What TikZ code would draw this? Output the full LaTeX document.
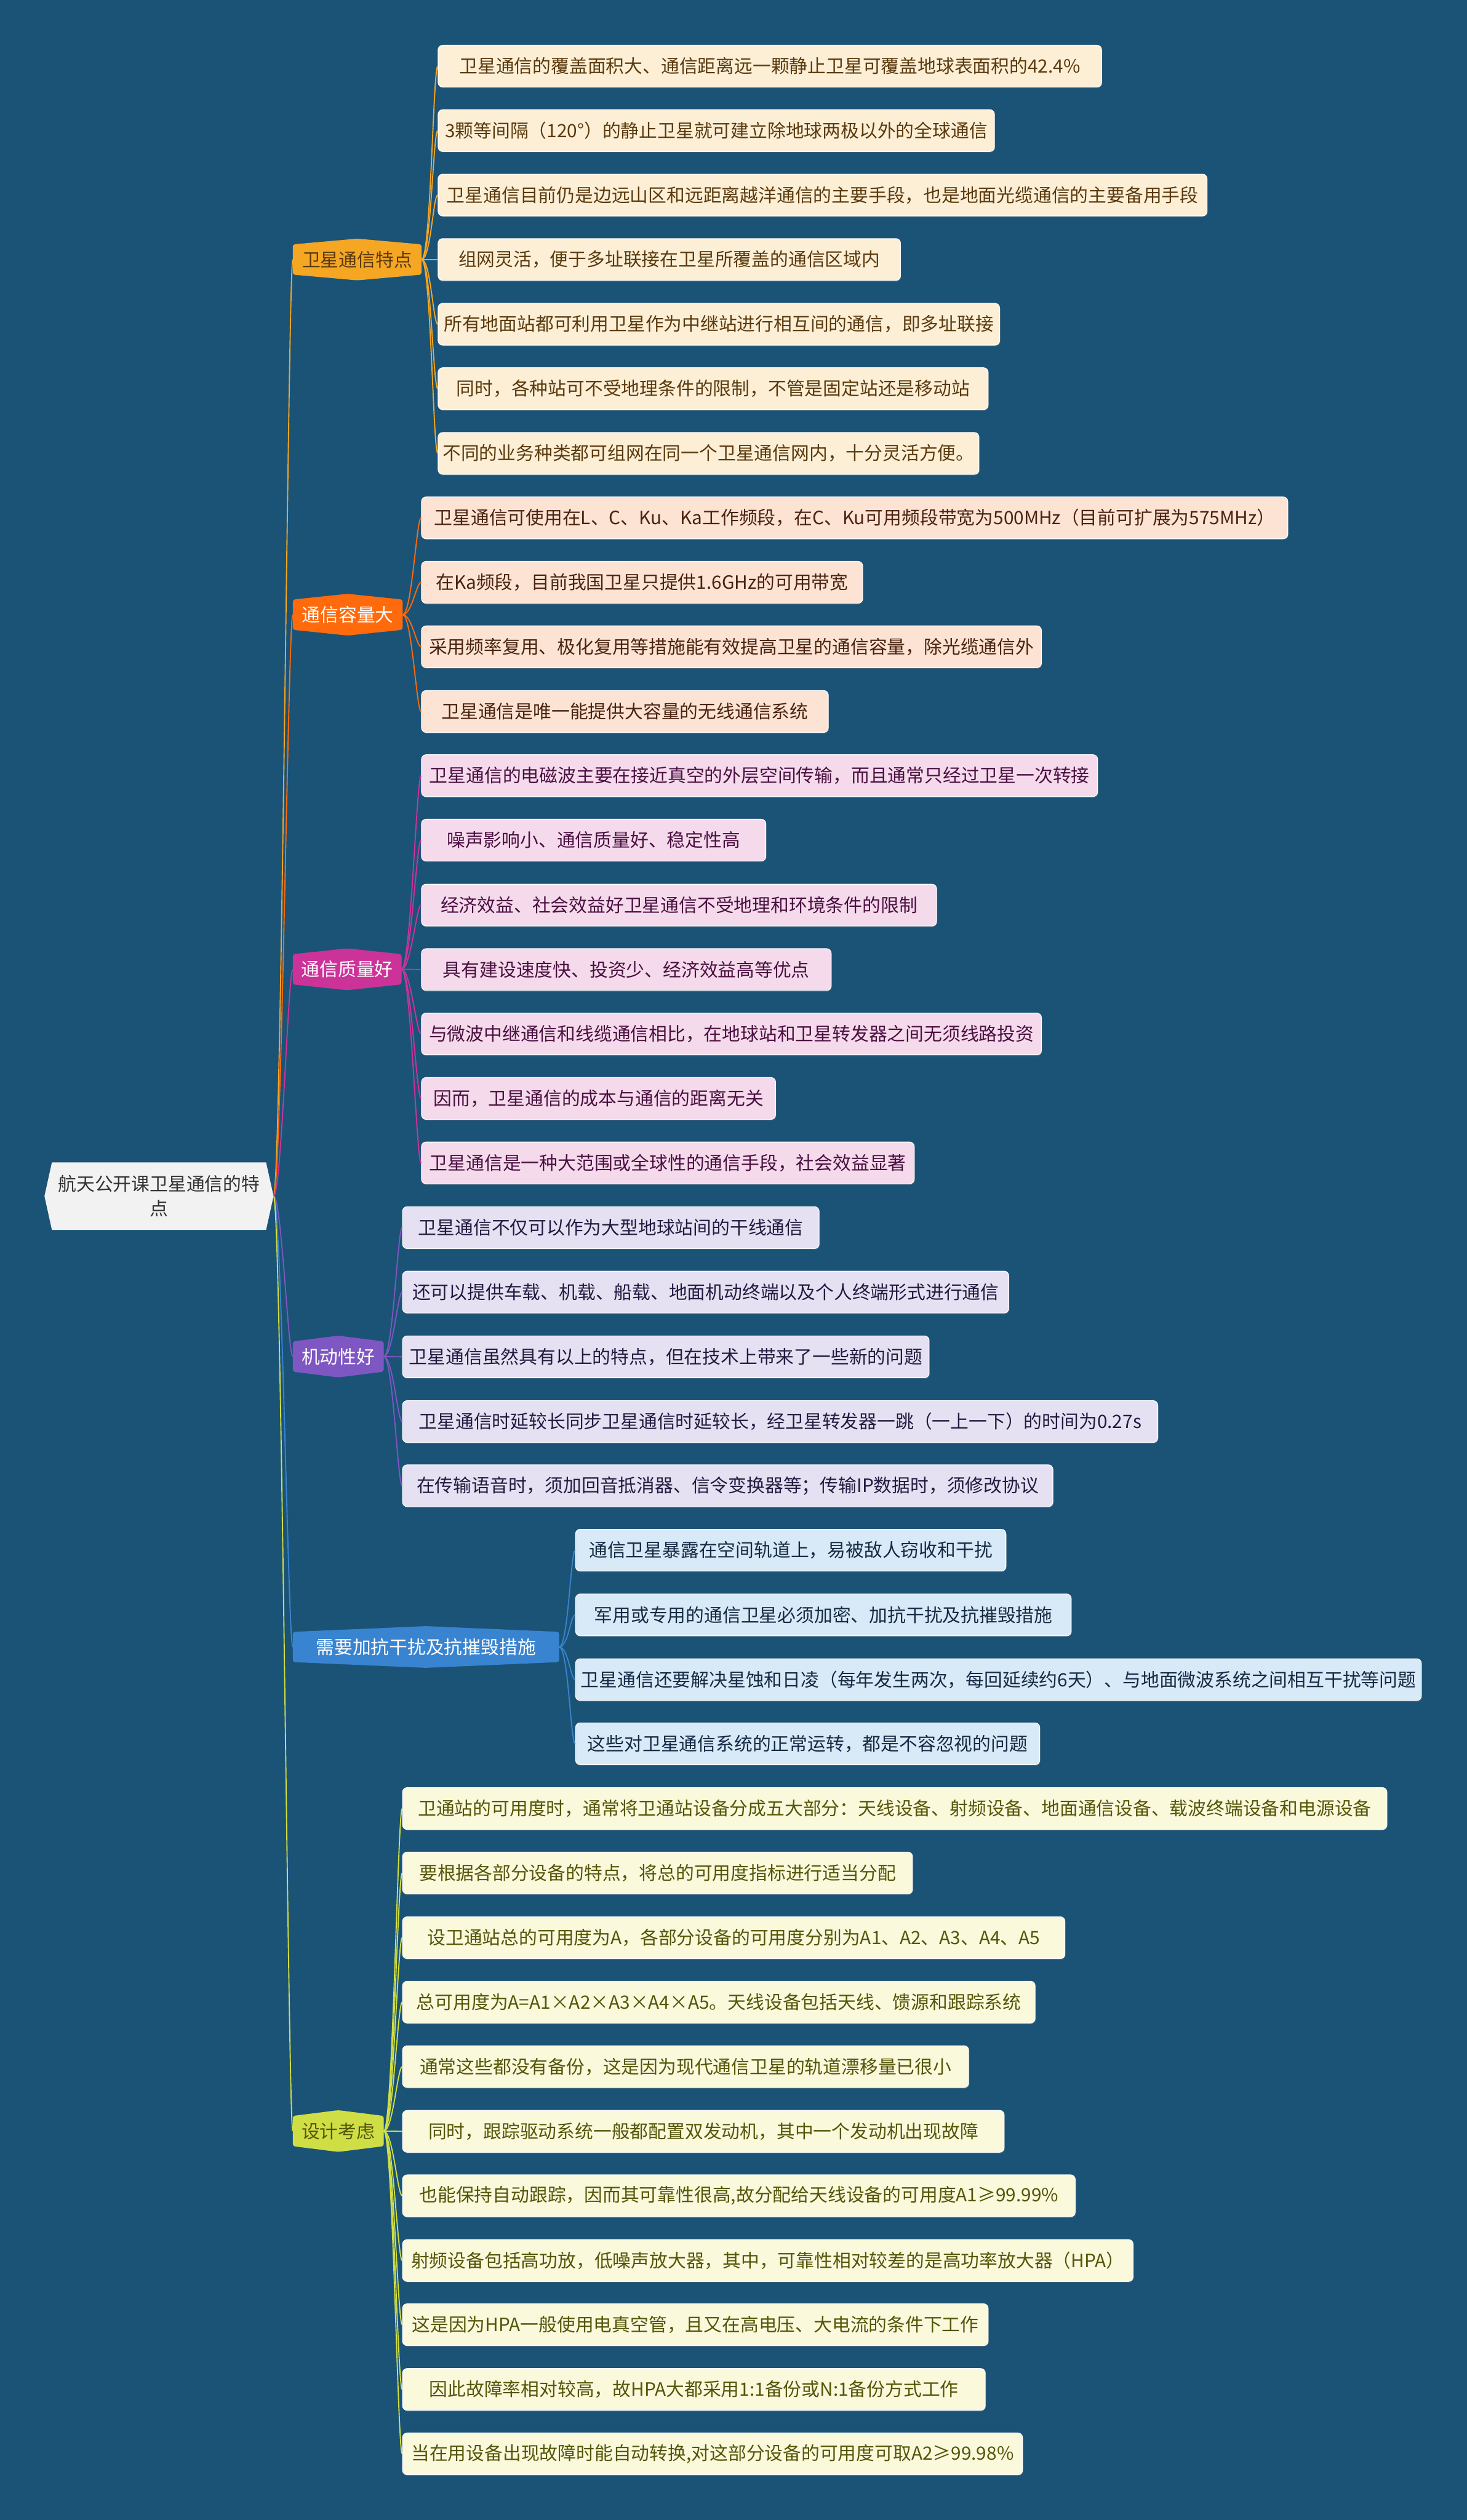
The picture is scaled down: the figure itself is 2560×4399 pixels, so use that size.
\documentclass[tikz,border=0pt]{standalone}
\usepackage{fontspec}
\setmainfont{Noto Sans CJK SC}
\usetikzlibrary{positioning, calc, backgrounds, shadows}

\definecolor{bgblue}{HTML}{1B5377}
\definecolor{rootfill}{HTML}{F2F2F2}
\definecolor{roottext}{HTML}{333333}
\definecolor{featfill}{HTML}{F5A623}
\definecolor{featleaf}{HTML}{FDEFD6}
\definecolor{feattext}{HTML}{5A3A0E}
\definecolor{capfill}{HTML}{FF6A0D}
\definecolor{capleaf}{HTML}{FDE3D3}
\definecolor{captext}{HTML}{4A2410}
\definecolor{qualfill}{HTML}{CC3399}
\definecolor{qualleaf}{HTML}{F5DAEC}
\definecolor{qualtext}{HTML}{4A1040}
\definecolor{mobfill}{HTML}{7E57C2}
\definecolor{mobleaf}{HTML}{E6E1F2}
\definecolor{mobtext}{HTML}{241A40}
\definecolor{antifill}{HTML}{3984D0}
\definecolor{antileaf}{HTML}{D8E9F7}
\definecolor{antitext}{HTML}{152A44}
\definecolor{desfill}{HTML}{D0DE45}
\definecolor{desleaf}{HTML}{FAF9DC}
\definecolor{destext}{HTML}{555508}

% hexagon behind a branch node: pointed top and bottom
\newcommand{\branchhex}[2]{%
    \fill[#2, rounded corners=2pt] ([yshift=-5pt]#1.north west) -- (#1.north) -- ([yshift=-5pt]#1.north east)
        -- ([yshift=5pt]#1.south east) -- (#1.south) -- ([yshift=5pt]#1.south west) -- cycle;}

\begin{document}
\begin{tikzpicture}[
    x=0.5pt, y=-0.5pt,
    txt/.style={font=\fontsize{16pt}{20pt}\selectfont},
    leaf/.style={
        txt,
        rectangle,
        rounded corners=4pt,
        anchor=west,
        minimum height=36.5pt,
        inner xsep=4pt,
        draw=white,
        line width=0.6pt,
        drop shadow={shadow xshift=0.6pt, shadow yshift=-1pt, opacity=0.35}
    },
    branch/.style={
        txt,
        rectangle,
        anchor=west,
        minimum height=36pt,
        inner sep=0pt
    },
    link/.style={line width=1pt},
    featleaf/.style={leaf, fill=featleaf, text=feattext},
    capleaf/.style={leaf, fill=capleaf, text=captext},
    qualleaf/.style={leaf, fill=qualleaf, text=qualtext},
    mobleaf/.style={leaf, fill=mobleaf, text=mobtext},
    antileaf/.style={leaf, fill=antileaf, text=antitext},
    desleaf/.style={leaf, fill=desleaf, text=destext}
]
    \useasboundingbox (0,0) rectangle (2560,4399);

    % Root
    \node[txt, rectangle, minimum width=199.5pt, minimum height=58.5pt, inner sep=0pt,
          align=center, text=roottext, font=\fontsize{16pt}{21.5pt}\selectfont]
          (root) at (277.5,2088) {航天公开课卫星通信的特\\点};

    % Branches
    \node[branch, minimum width=112pt, text=feattext] (feat) at (511,453) {卫星通信特点};
    \node[branch, minimum width=95.5pt, text=white] (cap) at (511,1073) {通信容量大};
    \node[branch, minimum width=94.5pt, text=white] (qual) at (511,1692) {通信质量好};
    \node[branch, minimum width=79pt, text=white] (mob) at (511,2368) {机动性好};
    \node[branch, minimum width=232pt, text=white] (anti) at (511,2875) {需要加抗干扰及抗摧毁措施};
    \node[branch, minimum width=79pt, text=destext] (design) at (511,3720) {设计考虑};

    % Leaves: 卫星通信特点
    \node[featleaf, minimum width=579pt] (feat1) at (764,115.5) {卫星通信的覆盖面积大、通信距离远一颗静止卫星可覆盖地球表面积的42.4\%};
    \node[featleaf, minimum width=485.5pt] (feat2) at (764,228) {3颗等间隔（120°）的静止卫星就可建立除地球两极以外的全球通信};
    \node[featleaf, minimum width=671pt] (feat3) at (764,340.5) {卫星通信目前仍是边远山区和远距离越洋通信的主要手段，也是地面光缆通信的主要备用手段};
    \node[featleaf, minimum width=403.5pt] (feat4) at (764,453) {组网灵活，便于多址联接在卫星所覆盖的通信区域内};
    \node[featleaf, minimum width=490pt] (feat5) at (764,566) {所有地面站都可利用卫星作为中继站进行相互间的通信，即多址联接};
    \node[featleaf, minimum width=480pt] (feat6) at (764,678.5) {同时，各种站可不受地理条件的限制，不管是固定站还是移动站};
    \node[featleaf, minimum width=472pt] (feat7) at (764,791.5) {不同的业务种类都可组网在同一个卫星通信网内，十分灵活方便。};

    % Leaves: 通信容量大
    \node[capleaf, minimum width=756pt] (cap1) at (735,904) {卫星通信可使用在L、C、Ku、Ka工作频段，在C、Ku可用频段带宽为500MHz（目前可扩展为575MHz）};
    \node[capleaf, minimum width=385pt] (cap2) at (735,1016.5) {在Ka频段，目前我国卫星只提供1.6GHz的可用带宽};
    \node[capleaf, minimum width=541pt] (cap3) at (735,1129) {采用频率复用、极化复用等措施能有效提高卫星的通信容量，除光缆通信外};
    \node[capleaf, minimum width=355pt] (cap4) at (735,1242) {卫星通信是唯一能提供大容量的无线通信系统};

    % Leaves: 通信质量好
    \node[qualleaf, minimum width=590pt] (qual1) at (735,1354) {卫星通信的电磁波主要在接近真空的外层空间传输，而且通常只经过卫星一次转接};
    \node[qualleaf, minimum width=300.5pt] (qual2) at (735,1466.5) {噪声影响小、通信质量好、稳定性高};
    \node[qualleaf, minimum width=449.5pt] (qual3) at (735,1580) {经济效益、社会效益好卫星通信不受地理和环境条件的限制};
    \node[qualleaf, minimum width=357.5pt] (qual4) at (735,1692.5) {具有建设速度快、投资少、经济效益高等优点};
    \node[qualleaf, minimum width=541pt] (qual5) at (735,1805) {与微波中继通信和线缆通信相比，在地球站和卫星转发器之间无须线路投资};
    \node[qualleaf, minimum width=309pt] (qual6) at (735,1917.5) {因而，卫星通信的成本与通信的距离无关};
    \node[qualleaf, minimum width=430pt] (qual7) at (735,2030) {卫星通信是一种大范围或全球性的通信手段，社会效益显著};

    % Leaves: 机动性好
    \node[mobleaf, minimum width=363.5pt] (mob1) at (702,2143) {卫星通信不仅可以作为大型地球站间的干线通信};
    \node[mobleaf, minimum width=529pt] (mob2) at (702,2255.5) {还可以提供车载、机载、船载、地面机动终端以及个人终端形式进行通信};
    \node[mobleaf, minimum width=459.5pt] (mob3) at (702,2368.5) {卫星通信虽然具有以上的特点，但在技术上带来了一些新的问题};
    \node[mobleaf, minimum width=659pt] (mob4) at (702,2481.5) {卫星通信时延较长同步卫星通信时延较长，经卫星转发器一跳（一上一下）的时间为0.27s};
    \node[mobleaf, minimum width=567.5pt] (mob5) at (702,2593.5) {在传输语音时，须加回音抵消器、信令变换器等；传输IP数据时，须修改协议};

    % Leaves: 需要加抗干扰及抗摧毁措施
    \node[antileaf, minimum width=375.5pt] (anti1) at (1004,2706) {通信卫星暴露在空间轨道上，易被敌人窃收和干扰};
    \node[antileaf, minimum width=432.5pt] (anti2) at (1004,2819) {军用或专用的通信卫星必须加密、加抗干扰及抗摧毁措施};
    \node[antileaf, minimum width=738pt] (anti3) at (1004,2932) {卫星通信还要解决星蚀和日凌（每年发生两次，每回延续约6天）、与地面微波系统之间相互干扰等问题};
    \node[antileaf, minimum width=405pt] (anti4) at (1004,3044) {这些对卫星通信系统的正常运转，都是不容忽视的问题};

    % Leaves: 设计考虑
    \node[desleaf, minimum width=859pt] (des1) at (702,3157) {卫通站的可用度时，通常将卫通站设备分成五大部分：天线设备、射频设备、地面通信设备、载波终端设备和电源设备};
    \node[desleaf, minimum width=445pt] (des2) at (702,3269.5) {要根据各部分设备的特点，将总的可用度指标进行适当分配};
    \node[desleaf, minimum width=578pt] (des3) at (702,3382.5) {设卫通站总的可用度为A，各部分设备的可用度分别为A1、A2、A3、A4、A5};
    \node[desleaf, minimum width=552pt] (des4) at (702,3495) {总可用度为A=A1×A2×A3×A4×A5。天线设备包括天线、馈源和跟踪系统};
    \node[desleaf, minimum width=494pt] (des5) at (702,3607.5) {通常这些都没有备份，这是因为现代通信卫星的轨道漂移量已很小};
    \node[desleaf, minimum width=525pt] (des6) at (702,3720.5) {同时，跟踪驱动系统一般都配置双发动机，其中一个发动机出现故障};
    \node[desleaf, minimum width=587pt] (des7) at (702,3833) {也能保持自动跟踪，因而其可靠性很高,故分配给天线设备的可用度A1≥99.99\%};
    \node[desleaf, minimum width=637.5pt] (des8) at (702,3946) {射频设备包括高功放，低噪声放大器，其中，可靠性相对较差的是高功率放大器（HPA）};
    \node[desleaf, minimum width=511pt] (des9) at (702,4058) {这是因为HPA一般使用电真空管，且又在高电压、大电流的条件下工作};
    \node[desleaf, minimum width=508.5pt] (des10) at (702,4171) {因此故障率相对较高，故HPA大都采用1:1备份或N:1备份方式工作};
    \node[desleaf, minimum width=541pt] (des11) at (702,4283.5) {当在用设备出现故障时能自动转换,对这部分设备的可用度可取A2≥99.98\%};

    % Root to branches
    \draw[link, featfill] (root.east) .. controls +(14,0) and +(-8,0) .. (feat.west);
    \draw[link, capfill] (root.east) .. controls +(14,0) and +(-8,0) .. (cap.west);
    \draw[link, qualfill] (root.east) .. controls +(14,0) and +(-8,0) .. (qual.west);
    \draw[link, mobfill] (root.east) .. controls +(14,0) and +(-8,0) .. (mob.west);
    \draw[link, antifill] (root.east) .. controls +(14,0) and +(-8,0) .. (anti.west);
    \draw[link, desfill] (root.east) .. controls +(14,0) and +(-8,0) .. (design.west);

    % Branch to leaves
    \draw[link, featfill] (feat.east) .. controls +(16,0) and +(-8,0) .. (feat1.west);
    \draw[link, featfill] (feat.east) .. controls +(16,0) and +(-8,0) .. (feat2.west);
    \draw[link, featfill] (feat.east) .. controls +(16,0) and +(-8,0) .. (feat3.west);
    \draw[link, featfill] (feat.east) -- (feat4.west);
    \draw[link, featfill] (feat.east) .. controls +(16,0) and +(-8,0) .. (feat5.west);
    \draw[link, featfill] (feat.east) .. controls +(16,0) and +(-8,0) .. (feat6.west);
    \draw[link, featfill] (feat.east) .. controls +(16,0) and +(-8,0) .. (feat7.west);

    \draw[link, capfill] (cap.east) .. controls +(16,0) and +(-8,0) .. (cap1.west);
    \draw[link, capfill] (cap.east) .. controls +(16,0) and +(-8,0) .. (cap2.west);
    \draw[link, capfill] (cap.east) .. controls +(16,0) and +(-8,0) .. (cap3.west);
    \draw[link, capfill] (cap.east) .. controls +(16,0) and +(-8,0) .. (cap4.west);

    \draw[link, qualfill] (qual.east) .. controls +(16,0) and +(-8,0) .. (qual1.west);
    \draw[link, qualfill] (qual.east) .. controls +(16,0) and +(-8,0) .. (qual2.west);
    \draw[link, qualfill] (qual.east) .. controls +(16,0) and +(-8,0) .. (qual3.west);
    \draw[link, qualfill] (qual.east) -- (qual4.west);
    \draw[link, qualfill] (qual.east) .. controls +(16,0) and +(-8,0) .. (qual5.west);
    \draw[link, qualfill] (qual.east) .. controls +(16,0) and +(-8,0) .. (qual6.west);
    \draw[link, qualfill] (qual.east) .. controls +(16,0) and +(-8,0) .. (qual7.west);

    \draw[link, mobfill] (mob.east) .. controls +(16,0) and +(-8,0) .. (mob1.west);
    \draw[link, mobfill] (mob.east) .. controls +(16,0) and +(-8,0) .. (mob2.west);
    \draw[link, mobfill] (mob.east) -- (mob3.west);
    \draw[link, mobfill] (mob.east) .. controls +(16,0) and +(-8,0) .. (mob4.west);
    \draw[link, mobfill] (mob.east) .. controls +(16,0) and +(-8,0) .. (mob5.west);

    \draw[link, antifill] (anti.east) .. controls +(16,0) and +(-8,0) .. (anti1.west);
    \draw[link, antifill] (anti.east) .. controls +(16,0) and +(-8,0) .. (anti2.west);
    \draw[link, antifill] (anti.east) .. controls +(16,0) and +(-8,0) .. (anti3.west);
    \draw[link, antifill] (anti.east) .. controls +(16,0) and +(-8,0) .. (anti4.west);

    \draw[link, desfill] (design.east) .. controls +(16,0) and +(-8,0) .. (des1.west);
    \draw[link, desfill] (design.east) .. controls +(16,0) and +(-8,0) .. (des2.west);
    \draw[link, desfill] (design.east) .. controls +(16,0) and +(-8,0) .. (des3.west);
    \draw[link, desfill] (design.east) .. controls +(16,0) and +(-8,0) .. (des4.west);
    \draw[link, desfill] (design.east) .. controls +(16,0) and +(-8,0) .. (des5.west);
    \draw[link, desfill] (design.east) -- (des6.west);
    \draw[link, desfill] (design.east) .. controls +(16,0) and +(-8,0) .. (des7.west);
    \draw[link, desfill] (design.east) .. controls +(16,0) and +(-8,0) .. (des8.west);
    \draw[link, desfill] (design.east) .. controls +(16,0) and +(-8,0) .. (des9.west);
    \draw[link, desfill] (design.east) .. controls +(16,0) and +(-8,0) .. (des10.west);
    \draw[link, desfill] (design.east) .. controls +(16,0) and +(-8,0) .. (des11.west);

    % Backdrop and node shapes
    \begin{scope}[on background layer]
        \fill[bgblue] (0,0) rectangle (2560,4399);
        \fill[rootfill] ([xshift=6.5pt]root.north west) -- ([xshift=-6.5pt]root.north east) -- (root.east)
            -- ([xshift=-6.5pt]root.south east) -- ([xshift=6.5pt]root.south west) -- (root.west) -- cycle;
        \branchhex{feat}{featfill}
        \branchhex{cap}{capfill}
        \branchhex{qual}{qualfill}
        \branchhex{mob}{mobfill}
        \branchhex{anti}{antifill}
        \branchhex{design}{desfill}
    \end{scope}

\end{tikzpicture}
\end{document}
